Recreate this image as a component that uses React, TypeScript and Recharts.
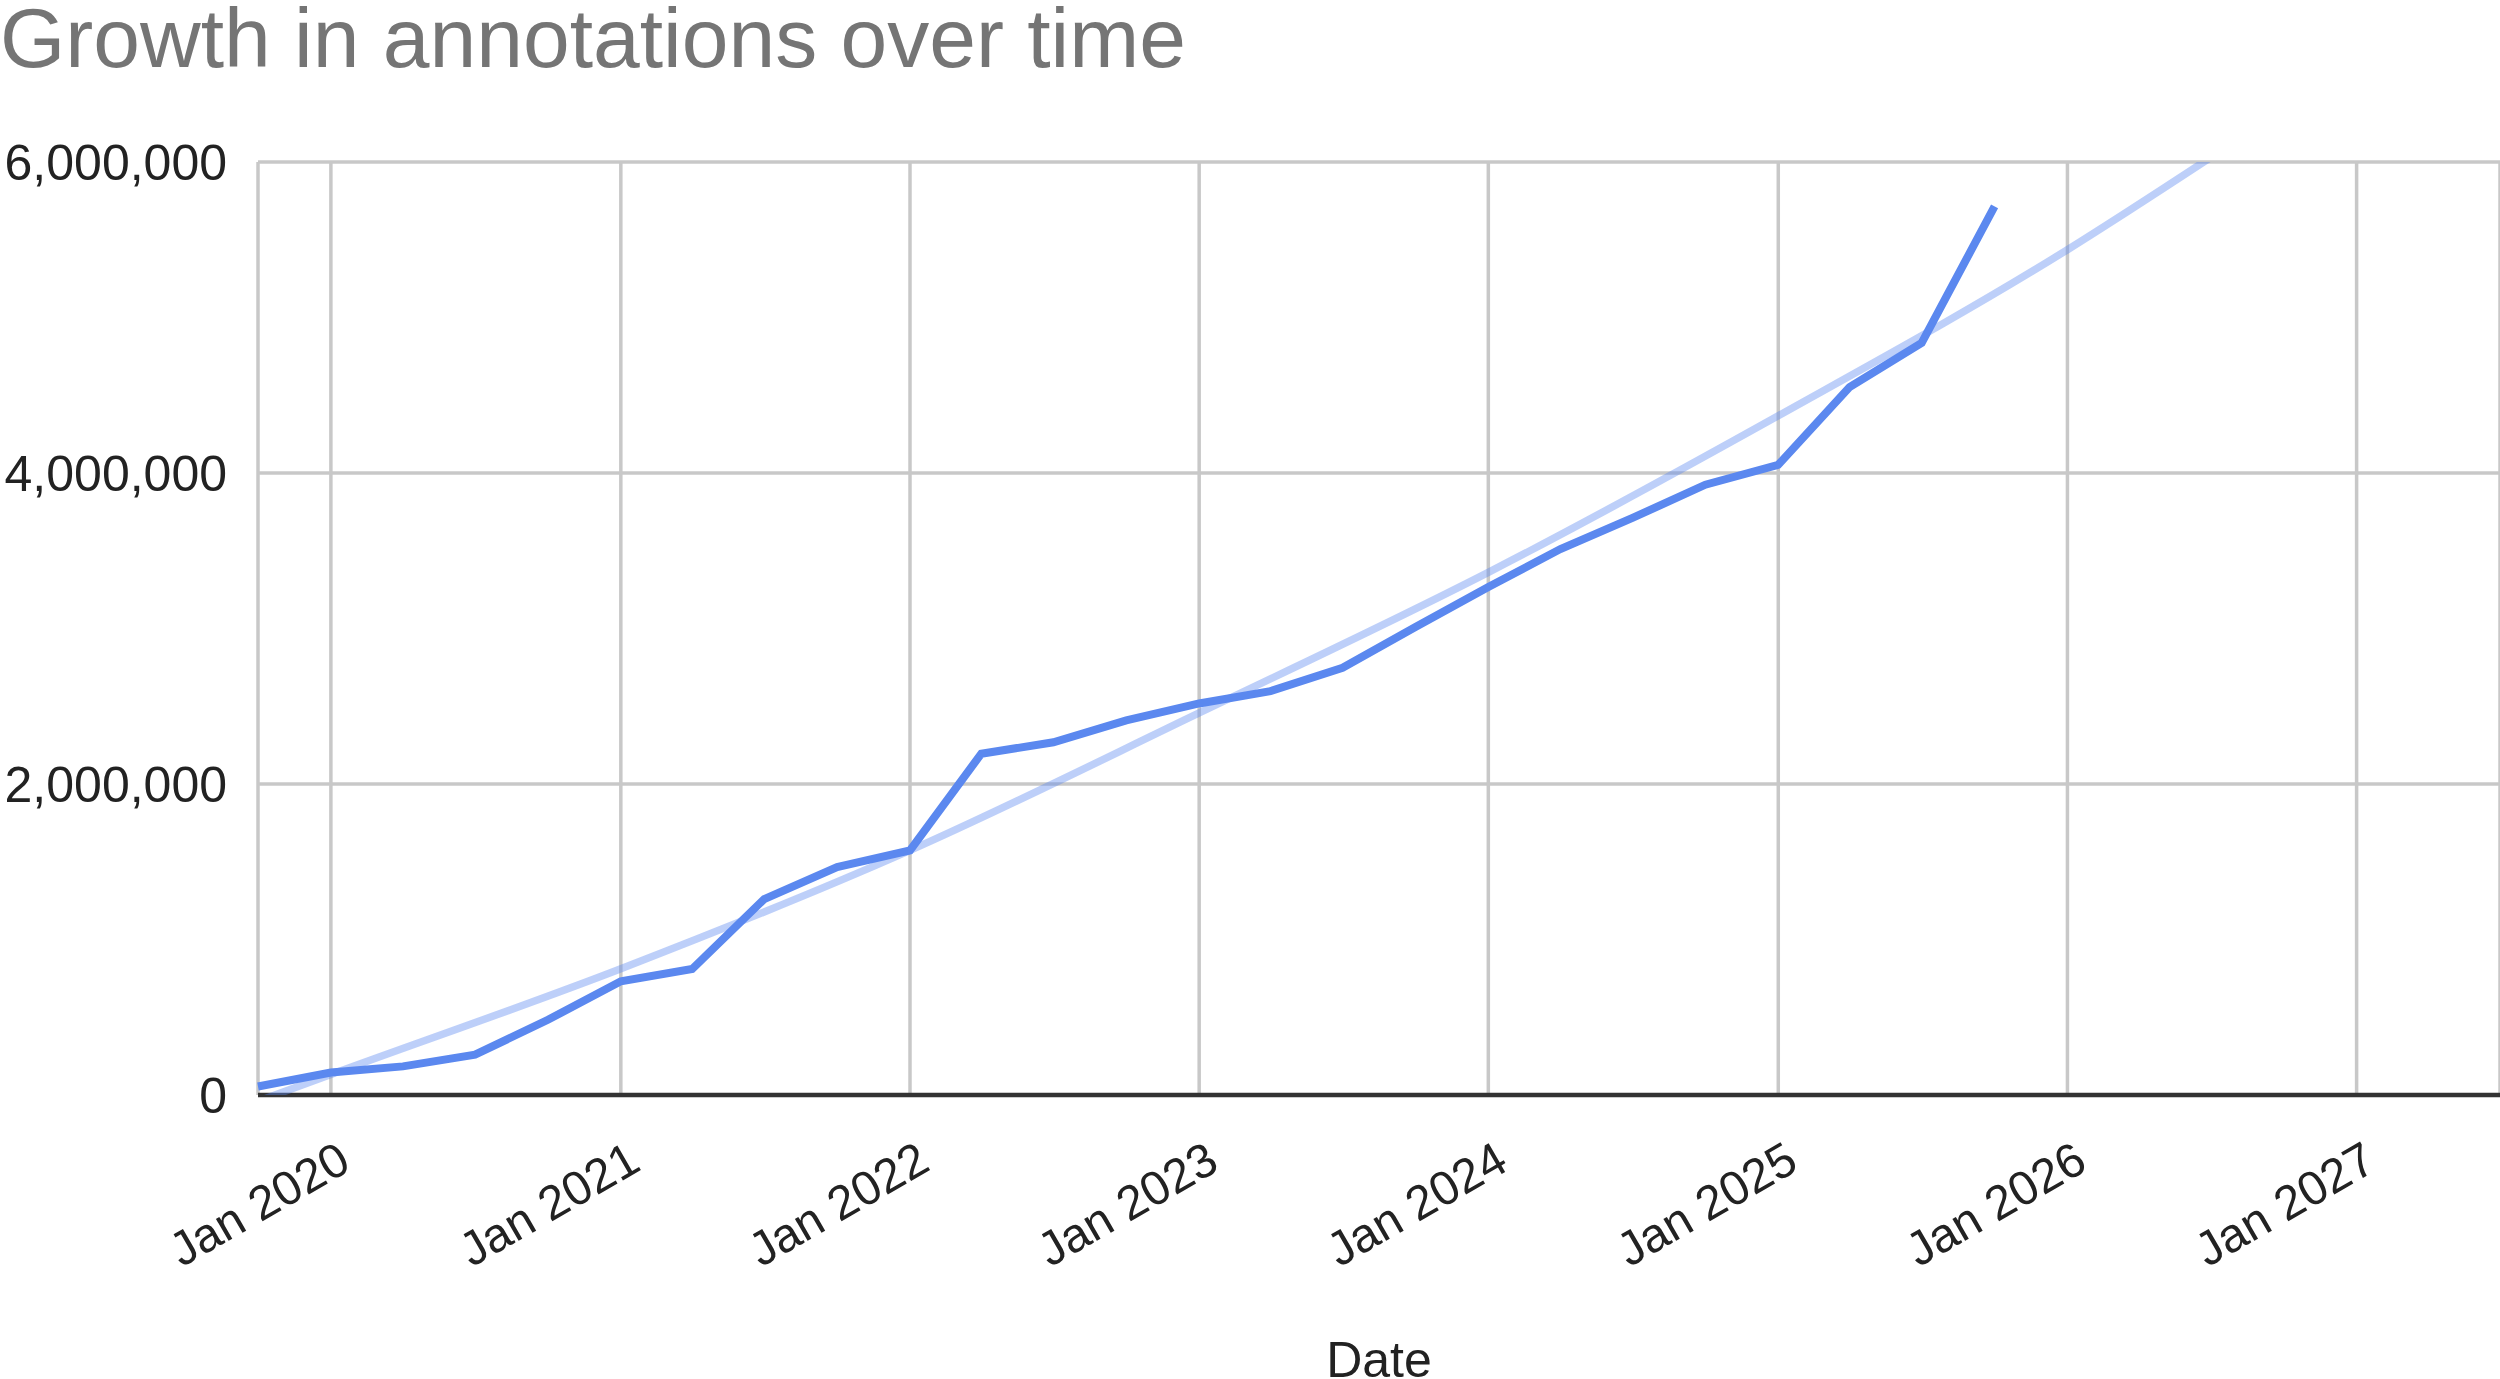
import React from "react";
import {
  CartesianGrid,
  Line,
  LineChart,
  ReferenceLine,
  XAxis,
  YAxis,
} from "recharts";

const FONT = '"Liberation Sans", Arial, Helvetica, sans-serif';

// quarterly totals of annotations
const quarterDates = [
  "2019-10-01", "2020-01-01", "2020-04-01", "2020-07-01", "2020-10-01",
  "2021-01-01", "2021-04-01", "2021-07-01", "2021-10-01",
  "2022-01-01", "2022-04-01", "2022-07-01", "2022-10-01",
  "2023-01-01", "2023-04-01", "2023-07-01", "2023-10-01",
  "2024-01-01", "2024-04-01", "2024-07-01", "2024-10-01",
  "2025-01-01", "2025-04-01", "2025-07-01", "2025-10-01",
];
const annotationCounts = [
  55000, 145000, 184000, 259000, 484000,
  731000, 810000, 1260000, 1466000,
  1573000, 2195000, 2268000, 2409000,
  2518000, 2597000, 2747000, 3010000,
  3267000, 3511000, 3711000, 3925000,
  4053000, 4552000, 4836000, 5715000,
];

// trendline
const trendDates = [
  "2019-10-01", "2020-01-01", "2021-01-01", "2022-01-01", "2023-01-01",
  "2024-01-01", "2025-01-01", "2026-01-01", "2026-07-01",
];
const trendValues = [
  -40000, 132000, 812000, 1573000, 2457000, 3361000, 4368000, 5436000, 6030000,
];

const yearTicks = [
  "2020-01-01", "2021-01-01", "2022-01-01", "2023-01-01",
  "2024-01-01", "2025-01-01", "2026-01-01", "2027-01-01",
];
const valueTicks = [0, 2000000, 4000000, 6000000];
const dateDomain = ["2019-10-01", "2027-07-01"];

const ts = (d: string) => Date.parse(d + "T00:00:00Z");

const series = quarterDates.map((d, i) => ({ t: ts(d), value: annotationCounts[i] }));
const trend = trendDates.map((d, i) => ({ t: ts(d), value: trendValues[i] }));

const MONTHS = ["Jan", "Feb", "Mar", "Apr", "May", "Jun", "Jul", "Aug", "Sep", "Oct", "Nov", "Dec"];
const fmtDate = (v: number) => {
  const d = new Date(v);
  return `${MONTHS[d.getUTCMonth()]} ${d.getUTCFullYear()}`;
};

function DateTick({ x, y, payload }: any) {
  return (
    <text
      transform={`translate(${x + 22},${y + 74}) rotate(-30)`}
      textAnchor="end"
      fontSize={48}
      fill="#222222"
    >
      {fmtDate(payload.value)}
    </text>
  );
}

function ValueTick({ x, y, payload }: any) {
  return (
    <text x={x} y={y} dy={18} textAnchor="end" fontSize={50} fill="#222222">
      {Number(payload.value).toLocaleString("en-US")}
    </text>
  );
}

export default function App() {
  return (
    <div
      style={{
        position: "absolute",
        left: 0,
        top: 0,
        width: 2500,
        height: 1379,
        overflow: "hidden",
        background: "#ffffff",
        fontFamily: FONT,
      }}
    >
      <div
        style={{
          position: "absolute",
          left: 0,
          top: -4,
          fontSize: 84,
          lineHeight: "84px",
          color: "#757575",
          whiteSpace: "nowrap",
        }}
      >
        Growth in annotations over time
      </div>
      <LineChart
        width={2500}
        height={1379}
        margin={{ top: 162, right: 0, bottom: 0, left: 0 }}
      >
        <CartesianGrid stroke="#c8c8c8" strokeWidth={3.5} />
        <XAxis
          type="number"
          dataKey="t"
          domain={dateDomain.map(ts)}
          ticks={yearTicks.map(ts)}
          interval={0}
          height={284}
          tickLine={false}
          axisLine={false}
          tickSize={0}
          tickMargin={0}
          tick={<DateTick />}
          label={{
            value: "Date",
            position: "insideBottom",
            offset: 2,
            fontSize: 50,
            fill: "#222222",
          }}
        />
        <YAxis
          type="number"
          domain={[0, 6000000]}
          ticks={valueTicks}
          allowDataOverflow
          interval={0}
          width={258}
          tickLine={false}
          axisLine={false}
          tickSize={0}
          tickMargin={31}
          tick={<ValueTick />}
        />
        <ReferenceLine y={0} stroke="#333333" strokeWidth={4.5} />
        <Line
          data={trend}
          dataKey="value"
          type="monotone"
          stroke="#5b88ef"
          strokeOpacity={0.4}
          strokeWidth={7.5}
          dot={false}
          activeDot={false}
          isAnimationActive={false}
        />
        <Line
          data={series}
          dataKey="value"
          type="linear"
          stroke="#5b88ef"
          strokeWidth={8}
          dot={false}
          activeDot={false}
          isAnimationActive={false}
        />
      </LineChart>
    </div>
  );
}
